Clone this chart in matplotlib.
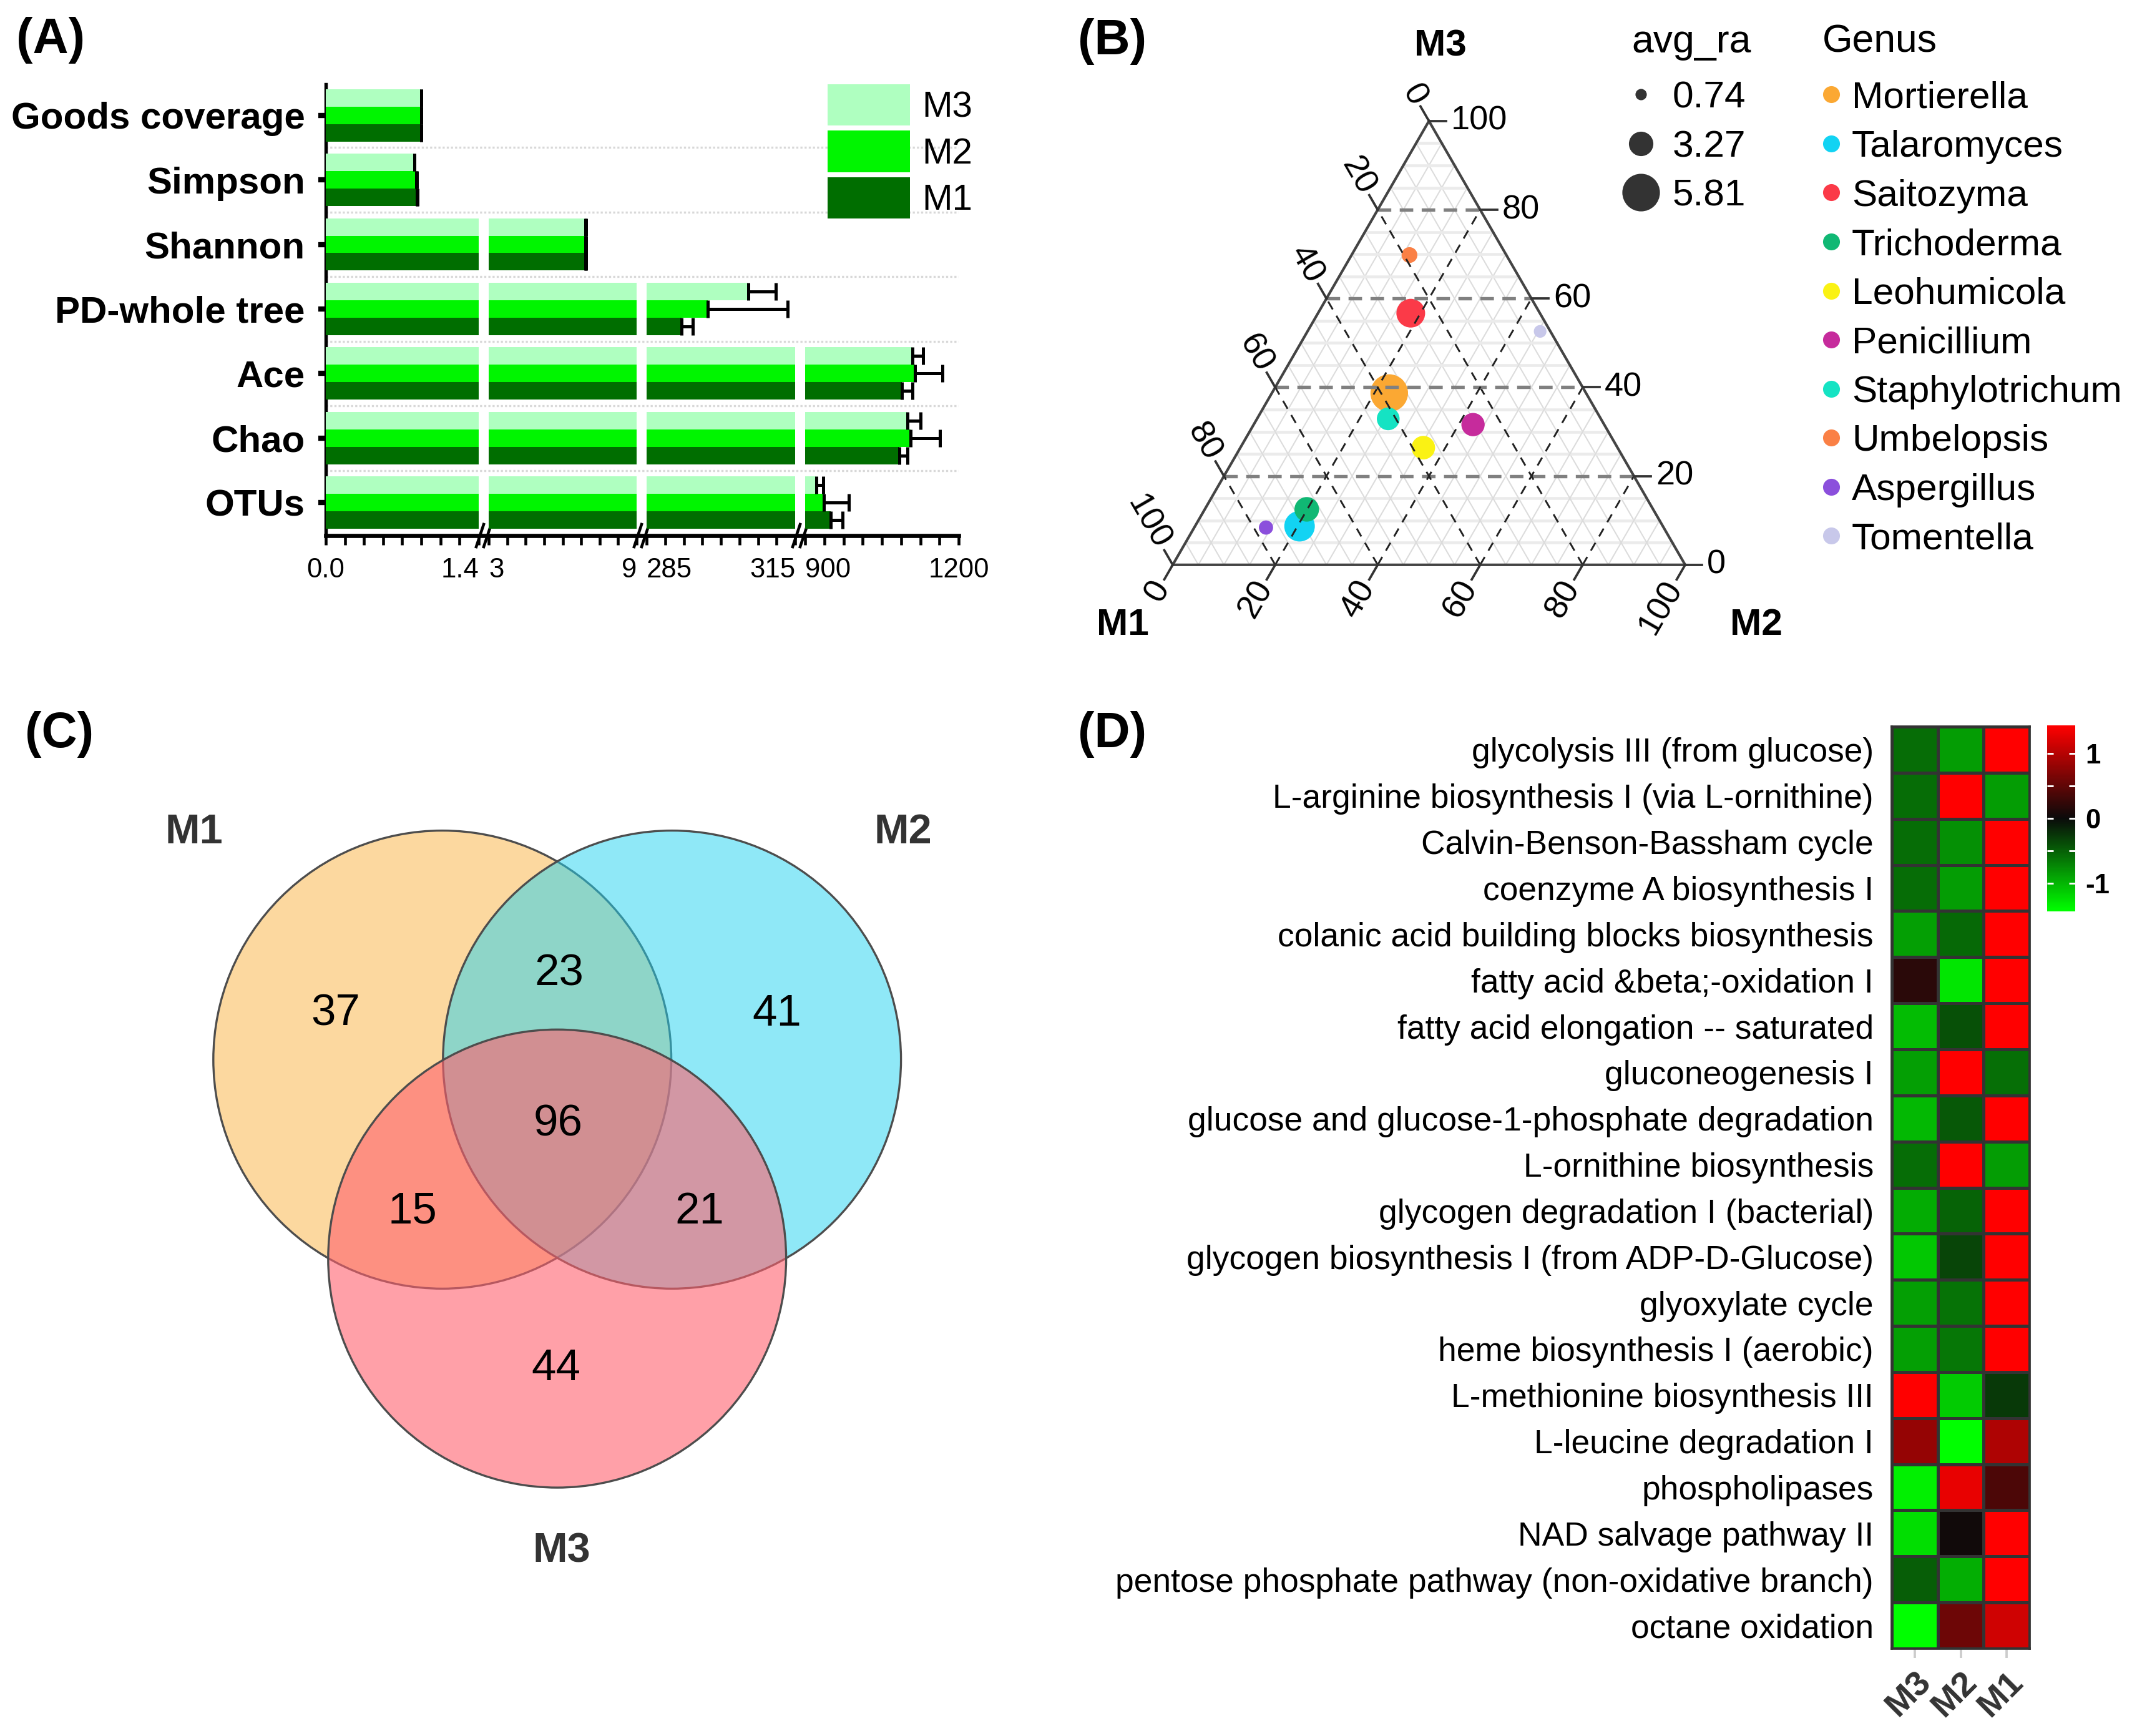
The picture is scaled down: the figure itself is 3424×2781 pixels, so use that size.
import matplotlib
matplotlib.use("Agg")
import matplotlib.pyplot as plt
import numpy as np
from matplotlib.colors import LinearSegmentedColormap, Normalize, to_rgba
from matplotlib.lines import Line2D
from matplotlib.patches import Patch, Circle, Polygon

plt.rcParams['font.family'] = ['Liberation Sans', 'DejaVu Sans']

W, H, DPI = 3424, 2781, 300

# ---------------- (A) alpha diversity (bottom to top) ----------------
metrics = ['OTUs', 'Chao', 'Ace', 'PD-whole tree', 'Shannon', 'Simpson', 'Goods coverage']
groups = ['M3', 'M2', 'M1']
m3_mean = [922, 1100, 1110, 305.6, 6.93, 0.81, 0.874]
m2_mean = [937, 1106, 1115, 297.4, 6.93, 0.83, 0.874]
m1_mean = [950, 1084, 1089, 292.1, 6.93, 0.835, 0.874]
m3_err = [13, 26, 21, 5.5, 0.02, 0.004, 0.003]
m2_err = [48, 57, 53, 16.1, 0.02, 0.004, 0.003]
m1_err = [23, 16, 21, 2.2, 0.02, 0.004, 0.003]
segment_limits = [(0, 1.4), (3, 9), (285, 315), (900, 1200)]
segment_labels = [('0.0', '1.4'), ('3', '9'), ('285', '315'), ('900', '1200')]

# ---------------- (B) ternary plot ----------------
genera = ['Mortierella', 'Talaromyces', 'Saitozyma', 'Trichoderma', 'Leohumicola',
          'Penicillium', 'Staphylotrichum', 'Umbelopsis', 'Aspergillus', 'Tomentella']
genus_m1 = [38.4, 70.9, 25.2, 67.6, 37.9, 25.6, 41.5, 18.9, 77.6, 2.0]
genus_m2 = [22.9, 20.4, 18.1, 19.9, 35.7, 42.8, 25.6, 11.3, 14.0, 45.4]
genus_m3 = [38.7, 8.7, 56.7, 12.5, 26.4, 31.6, 32.9, 69.8, 8.4, 52.6]
avg_ra = [5.81, 4.45, 4.1, 3.3, 3.1, 3.05, 2.95, 1.6, 1.3, 1.0]
size_breaks = [0.74, 3.27, 5.81]
genus_colors = ['#FBA833', '#12D3F3', '#FB3A48', '#10B874', '#FAF214',
                '#C62B9C', '#15E3C3', '#FA8045', '#8B4FDC', '#C8C8EA']

# ---------------- (C) Venn ----------------
venn_sets = ['M1', 'M2', 'M3']
venn_counts = {'100': 37, '010': 41, '001': 44, '110': 23, '101': 15, '011': 21, '111': 96}

# ---------------- (D) heatmap ----------------
pathways = ['glycolysis III (from glucose)', 'L-arginine biosynthesis I (via L-ornithine)',
            'Calvin-Benson-Bassham cycle', 'coenzyme A biosynthesis I',
            'colanic acid building blocks biosynthesis', 'fatty acid &beta;-oxidation I',
            'fatty acid elongation -- saturated', 'gluconeogenesis I',
            'glucose and glucose-1-phosphate degradation', 'L-ornithine biosynthesis',
            'glycogen degradation I (bacterial)', 'glycogen biosynthesis I (from ADP-D-Glucose)',
            'glyoxylate cycle', 'heme biosynthesis I (aerobic)', 'L-methionine biosynthesis III',
            'L-leucine degradation I', 'phospholipases', 'NAD salvage pathway II',
            'pentose phosphate pathway (non-oxidative branch)', 'octane oxidation']
heat_cols = ['M3', 'M2', 'M1']
heat_m3 = [-0.57, -0.57, -0.57, -0.57, -0.87, 0.18, -1.03, -0.87, -1.01, -0.58,
           -0.94, -1.10, -0.87, -0.87, 1.43, 0.81, -1.33, -1.23, -0.49, -1.43]
heat_m2 = [-0.86, 1.43, -0.78, -0.86, -0.55, -1.28, -0.41, 1.43, -0.45, 1.43,
           -0.52, -0.34, -0.61, -0.63, -1.12, -1.43, 1.29, 0.04, -0.95, 0.58]
heat_m1 = [1.43, -0.86, 1.43, 1.43, 1.43, 1.43, 1.43, -0.59, 1.43, -0.86,
           1.43, 1.43, 1.43, 1.43, -0.27, 0.95, 0.38, 1.43, 1.43, 1.14]


def rect(l, t, r, b):
    # pixel box -> figure fraction
    return [l / W, 1 - b / H, (r - l) / W, (b - t) / H]


fig = plt.figure(figsize=(W / DPI, H / DPI), dpi=DPI)

# ================= (A) =================
A_TOP, A_BOT = 135, 858
ax_bg = fig.add_axes(rect(522, A_TOP, 1536, A_BOT))
ax_bg.set_xlim(0, 1)
ax_bg.set_ylim(-0.51, 6.48)
yy = np.arange(len(metrics))
ax_bg.set_yticks(yy)
ax_bg.set_yticklabels(metrics, fontsize=14.4, fontweight='bold')
ax_bg.set_yticks(yy[:-1] + 0.5, minor=True)
ax_bg.grid(True, axis='y', which='minor', color='#D8D8D8', ls=(0, (1, 1)), lw=0.8)
ax_bg.tick_params(axis='y', which='major', length=3, width=2, pad=5)
ax_bg.tick_params(axis='y', which='minor', length=0)
ax_bg.set_xticks([])
ax_bg.spines['top'].set_visible(False)
ax_bg.spines['right'].set_visible(False)
ax_bg.spines['left'].set_linewidth(1.3)
ax_bg.spines['bottom'].set_linewidth(1.6)

bar_h = 0.27
offsets = [bar_h, 0, -bar_h]
colors_a = ['#AFFFC0', '#00F500', '#006E00']
means = [m3_mean, m2_mean, m1_mean]
errs = [m3_err, m2_err, m1_err]
seg_px = [(522, 767), (783, 1020), (1036, 1274), (1290, 1536)]
n_seg = len(seg_px)
for i, ((l, r), lim, labs) in enumerate(zip(seg_px, segment_limits, segment_labels)):
    ax = fig.add_axes(rect(l, A_TOP, r, A_BOT))
    ax.patch.set_visible(False)
    for s in ax.spines.values():
        s.set_visible(False)
    ax.set_xlim(lim)
    ax.set_ylim(ax_bg.get_ylim())
    ax.set_yticks([])
    for vals, ev, off, c in zip(means, errs, offsets, colors_a):
        ax.barh(yy + off, vals, height=bar_h, color=c, lw=0)
        ax.errorbar(vals, yy + off, xerr=[np.zeros(len(vals)), ev], fmt='none',
                    ecolor='black', elinewidth=1.2, capsize=3.4, capthick=1.2)
    ax.set_xticks(lim)
    ax.set_xticklabels(labs, fontsize=10.5)
    tl = ax.get_xticklabels()
    tl[0].set_ha('center' if i == 0 else 'left')
    tl[1].set_ha('center' if i == n_seg - 1 else 'right')
    ax.set_xticks(np.linspace(lim[0], lim[1], 9)[1:-1], minor=True)
    ax.tick_params(axis='x', which='both', length=3.5, width=1.1, pad=5)

# break marks on the x axis
span = 1536 - 522
for (l0, r0), (l1, r1) in zip(seg_px[:-1], seg_px[1:]):
    for xp in (r0 + 2, l1 - 2):
        xf = (xp - 522) / span
        ax_bg.plot([xf - 6 / span, xf + 6 / span], [-18 / 723, 18 / 723],
                   color='black', lw=1.1, transform=ax_bg.transAxes, clip_on=False)

handles = [Patch(facecolor=c, edgecolor='none') for c in colors_a]
ax_bg.legend(handles, groups, loc='upper left', bbox_to_anchor=(1326 / W, 1 - 135 / H),
             bbox_transform=fig.transFigure, frameon=False, fontsize=14,
             handlelength=2.26, handleheight=1.37, labelspacing=0.14,
             handletextpad=0.33, borderpad=0, borderaxespad=0)

# ================= (B) =================
axb = fig.add_axes(rect(1700, 120, 2760, 1060))
axb.set_xlim(-0.218, 1.073)
axb.set_ylim(-0.189, 0.956)
axb.axis('off')


def tern(m1, m2, m3):
    m1, m2, m3 = (np.asarray(v, dtype=float) for v in (m1, m2, m3))
    s = m1 + m2 + m3
    return (m2 + m3 / 2) / s, (m3 * np.sqrt(3) / 2) / s


for k in range(5, 100, 5):
    lines = [((100 - k, 0, k), (0, 100 - k, k)),      # constant M3
             ((k, 100 - k, 0), (k, 0, 100 - k)),      # constant M1
             ((100 - k, k, 0), (0, k, 100 - k))]      # constant M2
    for i, (a, b) in enumerate(lines):
        xa, ya = tern(*a)
        xb, yb = tern(*b)
        if k % 20:
            if i == 0:
                axb.plot([xa, xb], [ya, yb], color='#EBEBEB', lw=1.1, zorder=1)
            else:
                axb.plot([xa, xb], [ya, yb], color='#DCDCDC', lw=0.5, zorder=1)
        elif i == 0:
            axb.plot([xa, xb], [ya, yb], color='#808080', lw=1.3, dashes=(4, 2.5), zorder=4)
        else:
            axb.plot([xa, xb], [ya, yb], color='#222222', lw=0.7, dashes=(5, 4), zorder=4)

corners = [tern(100, 0, 0), tern(0, 100, 0), tern(0, 0, 100)]
axb.add_patch(Polygon(np.array([[float(x), float(y)] for x, y in corners]), closed=True,
                      fill=False, edgecolor='#444444', lw=1.0, zorder=5))

tick_len = 0.033
d_left = np.array([-0.5, np.sqrt(3) / 2])
d_bottom = np.array([-0.5, -np.sqrt(3) / 2])
for k in range(0, 101, 20):
    x, y = tern(0, 100 - k, k)
    axb.plot([x, x + tick_len], [y, y], color='#333333', lw=0.9, zorder=5)
    axb.text(x + 0.043, y, str(k), ha='left', va='center', fontsize=13)
    x, y = tern(k, 0, 100 - k)
    axb.plot([x, x + d_left[0] * tick_len], [y, y + d_left[1] * tick_len],
             color='#333333', lw=0.9, zorder=5)
    axb.text(x + d_left[0] * 0.04, y + d_left[1] * 0.04, str(k), rotation=-60,
             rotation_mode='anchor', ha='right', va='center', fontsize=13)
    x, y = tern(100 - k, k, 0)
    axb.plot([x, x + d_bottom[0] * tick_len], [y, y + d_bottom[1] * tick_len],
             color='#333333', lw=0.9, zorder=5)
    axb.text(x + d_bottom[0] * 0.04, y + d_bottom[1] * 0.04, str(k), rotation=60,
             rotation_mode='anchor', ha='right', va='center', fontsize=13)

axb.text(0.5225, 1.012, 'M3', ha='center', va='center', fontsize=14.5, fontweight='bold')
axb.text(-0.097, -0.118, 'M1', ha='center', va='center', fontsize=14.5, fontweight='bold')
axb.text(1.139, -0.118, 'M2', ha='center', va='center', fontsize=14.5, fontweight='bold')


def diam_pt(v):
    return (8.3 * np.asarray(v) + 12) * 72 / DPI


px, py = tern(genus_m1, genus_m2, genus_m3)
axb.scatter(px, py, s=diam_pt(avg_ra) ** 2, c=genus_colors, edgecolors='none', zorder=3)

size_handles = [Line2D([], [], ls='none', marker='o', markersize=float(diam_pt(v)),
                       markerfacecolor='#333333', markeredgecolor='none') for v in size_breaks]
leg1 = axb.legend(size_handles, [f'{v:.2f}' for v in size_breaks], title='avg_ra',
                  loc='upper left', bbox_to_anchor=(2614 / W, 1 - 38 / H),
                  bbox_transform=fig.transFigure, frameon=False, fontsize=14.5,
                  title_fontsize=15, handlelength=0.5, handletextpad=0.58,
                  labelspacing=0.39, borderpad=0, borderaxespad=0, alignment='left')
leg1._legend_box.sep = 7.8
axb.add_artist(leg1)
genus_handles = [Line2D([], [], ls='none', marker='o', markersize=6.5,
                        markerfacecolor=c, markeredgecolor='none') for c in genus_colors]
leg2 = axb.legend(genus_handles, genera, title='Genus', loc='upper left',
                  bbox_to_anchor=(2920 / W, 1 - 38 / H), bbox_transform=fig.transFigure,
                  frameon=False, fontsize=14.5, title_fontsize=15, handlelength=0.45,
                  handletextpad=0.33, labelspacing=0.39, borderpad=0, borderaxespad=0,
                  alignment='left')
leg2._legend_box.sep = 7.8

# ================= (C) =================
unit = 368
cx, cy = 892.7, 1803.7
axc = fig.add_axes(rect(0, 1100, 1650, 2781))
axc.set_xlim((0 - cx) / unit, (1650 - cx) / unit)
axc.set_ylim((cy - 2781) / unit, (cy - 1100) / unit)
axc.set_aspect('equal')
axc.axis('off')

centers = {'M1': (-0.5, np.sqrt(3) / 6), 'M2': (0.5, np.sqrt(3) / 6), 'M3': (0, -np.sqrt(3) / 3)}
venn_colors = {'M1': to_rgba('#FBB341', 0.5), 'M2': to_rgba('#21D3F1', 0.5),
               'M3': to_rgba('#FF616E', 0.6)}
for name in venn_sets:
    axc.add_patch(Circle(centers[name], 0.997, facecolor=venn_colors[name],
                         edgecolor='#4D4D4D', lw=0.8))

count_pos = {'100': (-0.965, 0.486), '010': (0.957, 0.486), '001': (-0.005, -1.058),
             '110': (0.008, 0.66), '101': (-0.63, -0.375), '011': (0.62, -0.375),
             '111': (0.005, 0.005)}
for key, n in venn_counts.items():
    axc.text(*count_pos[key], str(n), ha='center', va='center', fontsize=17)
set_label_pos = {'M1': (-1.58, 1.277), 'M2': (1.506, 1.277), 'M3': (0.02, -1.854)}
for name in venn_sets:
    axc.text(*set_label_pos[name], name, ha='center', va='center', fontsize=16,
             fontweight='bold', color='#333333')

# ================= (D) =================
axd = fig.add_axes(rect(3031, 1164, 3252, 2641))
heat = np.column_stack([heat_m3, heat_m2, heat_m1])
cmap = LinearSegmentedColormap.from_list('gkr', ['#00FF00', '#0A0A0A', '#FF0000'])
norm = Normalize(-1.43, 1.43)
mesh = axd.pcolormesh(heat, cmap=cmap, norm=norm, edgecolors='#333333', linewidth=0.8)
axd.set_xlim(0, len(heat_cols))
axd.set_ylim(len(pathways), 0)
axd.set_yticks(np.arange(len(pathways)) + 0.5)
axd.set_yticklabels(pathways, fontsize=12.8)
axd.tick_params(axis='y', length=0, pad=7)
axd.set_xticks(np.arange(len(heat_cols)) + 0.5)
axd.set_xticklabels(heat_cols, rotation=45, rotation_mode='anchor', ha='right', va='top',
                    fontsize=13.5, fontweight='bold', color='#333333')
axd.tick_params(axis='x', length=3.5, width=0.9, color='#CCCCCC', pad=3)
for s in axd.spines.values():
    s.set_color('#333333')
    s.set_linewidth(0.9)

cax = fig.add_axes(rect(3280, 1162, 3325, 1460))
cb = fig.colorbar(mesh, cax=cax)
cb.outline.set_visible(False)
cb.set_ticks([-1, 0, 1])
cb.ax.set_yticks([-0.5, 0.5], minor=True)
cb.ax.set_yticklabels(['-1', '0', '1'], fontsize=10.5, fontweight='bold')
cb.ax.tick_params(axis='y', which='both', direction='in', left=True, right=True,
                  color='white', length=2.4, width=0.7, pad=4)

# panel letters
for label, xl, yc in [('(A)', 26, 64), ('(B)', 1727, 67), ('(C)', 40, 1177), ('(D)', 1727, 1177)]:
    fig.text(xl / W, 1 - yc / H, label, fontsize=19, fontweight='bold', ha='left', va='center')

fig.savefig('out.png', dpi=DPI)
